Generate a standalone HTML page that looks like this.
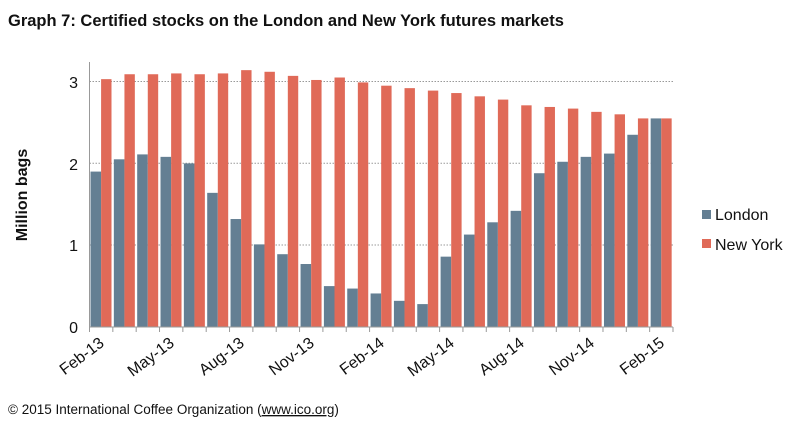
<!DOCTYPE html>
<html><head><meta charset="utf-8"><style>
body{margin:0;background:#fff;width:800px;height:434px;overflow:hidden;font-family:"Liberation Sans",Arial,sans-serif}
</style></head><body>
<svg width="800" height="434" xmlns="http://www.w3.org/2000/svg" font-family="Liberation Sans, Arial, sans-serif">
<text x="8" y="26" font-size="16.5" font-weight="bold" fill="#111">Graph 7: Certified stocks on the London and New York futures markets</text>
<g stroke="#999" stroke-dasharray="1.5,1.5" stroke-width="1">
<line x1="89.5" x2="673" y1="81.5" y2="81.5"/><line x1="89.5" x2="673" y1="163.3" y2="163.3"/><line x1="89.5" x2="673" y1="245" y2="245"/>
</g>
<g id="bars"></g>
<line x1="89.5" x2="89.5" y1="62" y2="327" stroke="#999"/>
<line x1="89.5" x2="673" y1="327" y2="327" stroke="#999"/>
<g id="ticks" stroke="#999"></g>
<g font-size="16" fill="#111" text-anchor="end">
<text x="78" y="88">3</text><text x="78" y="170">2</text><text x="78" y="251">1</text><text x="78" y="333">0</text>
</g>
<text transform="translate(27,195) rotate(-90)" font-size="16" font-weight="bold" text-anchor="middle" fill="#111">Million bags</text>
<g id="labels" font-size="16" fill="#111" text-anchor="end"></g>
<rect x="702" y="210" width="9" height="9" fill="#647f93"/><text x="715" y="220" font-size="16" fill="#111">London</text>
<rect x="702" y="239" width="9" height="9" fill="#e06a58"/><text x="715" y="250" font-size="16" fill="#111">New York</text>
<text x="8" y="414" font-size="13.5" fill="#111">© 2015 International Coffee Organization (<tspan text-decoration="underline">www.ico.org</tspan>)</text>
</svg>
<script>
var L=[1.9,2.05,2.11,2.08,2.0,1.64,1.32,1.01,0.89,0.77,0.5,0.47,0.41,0.32,0.28,0.86,1.13,1.28,1.42,1.88,2.02,2.08,2.12,2.35,2.55];
var N=[3.03,3.09,3.09,3.10,3.09,3.10,3.14,3.12,3.07,3.02,3.05,2.99,2.95,2.92,2.89,2.86,2.82,2.78,2.71,2.69,2.67,2.63,2.60,2.55,2.55];
var ns="http://www.w3.org/2000/svg",b=document.getElementById('bars'),t=document.getElementById('ticks'),lb=document.getElementById('labels');
var x0=89.5,w=(673-89.5)/25,y0=327,u=81.8;
function r(x,y,ww,h,c){var e=document.createElementNS(ns,'rect');e.setAttribute('x',x);e.setAttribute('y',y);e.setAttribute('width',ww);e.setAttribute('height',h);e.setAttribute('fill',c);b.appendChild(e);}
var names=['Feb-13','May-13','Aug-13','Nov-13','Feb-14','May-14','Aug-14','Nov-14','Feb-15'];
for(var i=0;i<25;i++){var x=x0+i*w;
r(x+1,y0-L[i]*u,10.6,L[i]*u,'#647f93');r(x+11.6,y0-N[i]*u,10.4,N[i]*u,'#e06a58');}
for(var i=0;i<=25;i++){var l=document.createElementNS(ns,'line');var x=x0+i*w;l.setAttribute('x1',x);l.setAttribute('x2',x);l.setAttribute('y1',327);l.setAttribute('y2',332);t.appendChild(l);}
for(var k=0;k<9;k++){var x=x0+(k*3+0.5)*w+4;var e=document.createElementNS(ns,'text');e.setAttribute('transform','translate('+x+',345) rotate(-37)');e.textContent=names[k];lb.appendChild(e);}
</script>
</body></html>
